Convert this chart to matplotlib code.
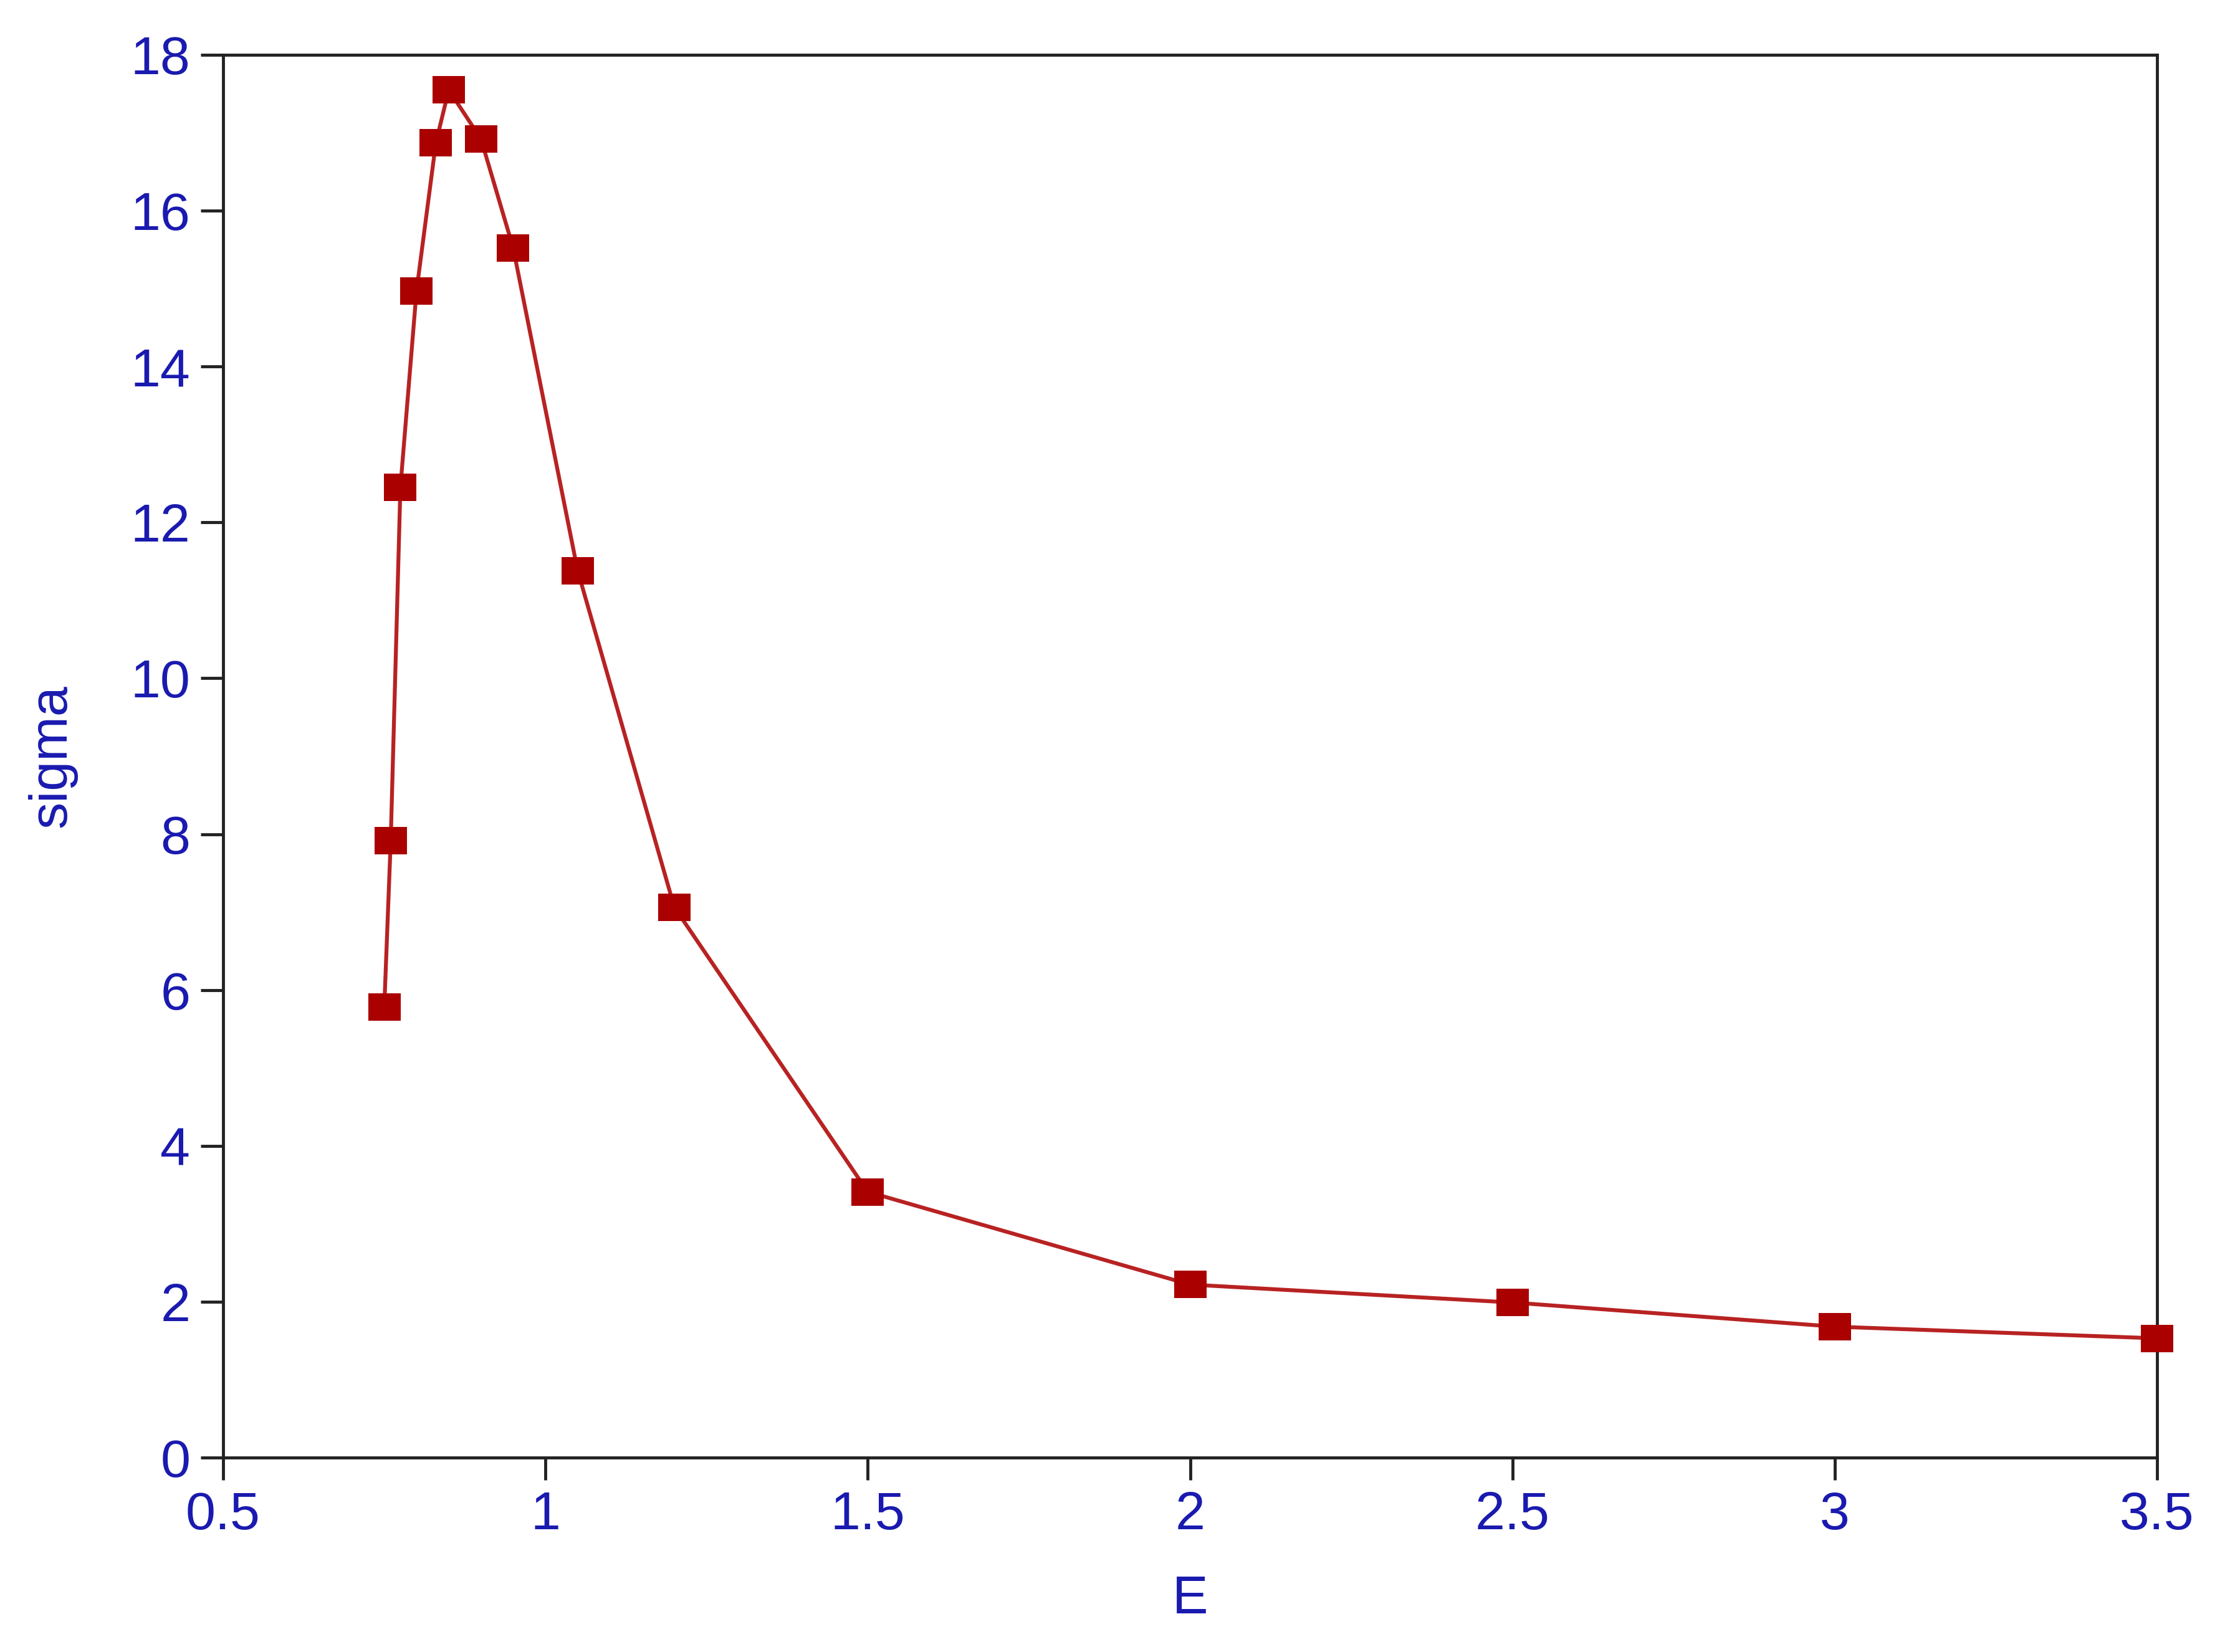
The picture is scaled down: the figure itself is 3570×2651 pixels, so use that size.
import matplotlib
matplotlib.use("Agg")
import matplotlib.pyplot as plt

E = [0.75, 0.76, 0.775, 0.80, 0.83, 0.85, 0.90, 0.95, 1.05, 1.20, 1.50, 2.00, 2.50, 3.00, 3.50]
sigma = [5.78, 7.92, 12.45, 14.97, 16.87, 17.55, 16.92, 15.52, 11.38, 7.06, 3.41, 2.22, 1.99, 1.68, 1.53]
xticks = [0.5, 1, 1.5, 2, 2.5, 3, 3.5]
xticklabels = ["0.5", "1", "1.5", "2", "2.5", "3", "3.5"]
yticks = [0, 2, 4, 6, 8, 10, 12, 14, 16, 18]

plt.rcParams["font.family"] = ["Liberation Sans", "DejaVu Sans"]

W, H, DPI = 3570, 2651, 100
fig = plt.figure(figsize=(W / DPI, H / DPI), dpi=DPI)
left, right, top, bottom = 358 / W, 3461 / W, 1 - 88 / H, 1 - 2339 / H
ax = fig.add_axes([left, bottom, right - left, top - bottom])

blue = "#1a1ab0"
rect = [(-1.2, -1.0), (1.2, -1.0), (1.2, 1.0), (-1.2, 1.0), (-1.2, -1.0)]
ax.plot(E, sigma, color="#b82222", lw=4.5, marker=rect, markersize=38,
        markerfacecolor="#aa0000", markeredgecolor="#aa0000", markeredgewidth=0,
        clip_on=False, zorder=3)

ax.set_xlim(0.5, 3.5)
ax.set_ylim(0, 18)
ax.set_xticks(xticks)
ax.set_xticklabels(xticklabels)
ax.set_yticks(yticks)
for s in ax.spines.values():
    s.set_linewidth(3.5)
    s.set_color("#222222")
ax.tick_params(axis="both", direction="out", length=26, width=3.5, color="#222222",
               labelsize=62, labelcolor=blue)
ax.tick_params(axis="x", pad=12)
ax.tick_params(axis="y", pad=12)
ax.set_xlabel("E", fontsize=62, color=blue, labelpad=40)
ax.set_ylabel("sigma", fontsize=62, color=blue, labelpad=62)

fig.savefig("out.png", dpi=DPI, facecolor="white")
